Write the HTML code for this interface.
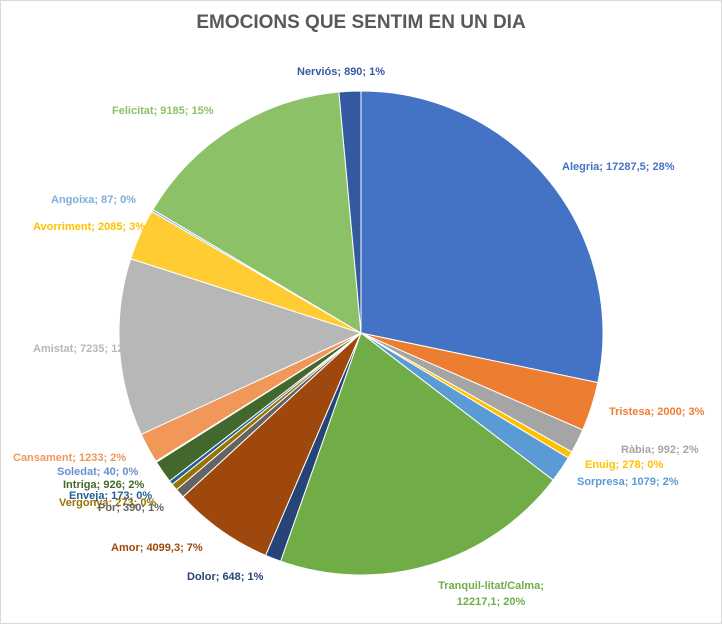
<!DOCTYPE html>
<html><head><meta charset="utf-8"><style>
html,body{margin:0;padding:0;background:#fff}
#c{position:relative;width:720px;height:622px;border:1px solid #d9d9d9;overflow:hidden;font-family:"Liberation Sans",sans-serif}
.l{position:absolute;font-size:11px;font-weight:bold;white-space:nowrap;line-height:12px}
#t{position:absolute;left:0;width:720px;top:11px;text-align:center;font-size:19px;font-weight:bold;color:#595959}
</style></head><body><div id="c">
<svg id="s" width="720" height="622" style="position:absolute;left:0;top:0"></svg>
<div id="t">EMOCIONS QUE SENTIM EN UN DIA</div>
<div class="l" style="left:296px;top:65px;color:#335AA1">Nerviós; 890; 1%</div>
<div class="l" style="left:561px;top:160px;color:#4472C4">Alegria; 17287,5; 28%</div>
<div class="l" style="left:111px;top:104px;color:#8CC168">Felicitat; 9185; 15%</div>
<div class="l" style="left:50px;top:193px;color:#7CAFDD">Angoixa; 87; 0%</div>
<div class="l" style="left:32px;top:220px;color:#FFC000">Avorriment; 2085; 3%</div>
<div class="l" style="left:32px;top:342px;color:#B7B7B7">Amistat; 7235; 12%</div>
<div class="l" style="left:608px;top:405px;color:#ED7D31">Tristesa; 2000; 3%</div>
<div class="l" style="left:620px;top:443px;color:#A5A5A5">Ràbia; 992; 2%</div>
<div class="l" style="left:584px;top:458px;color:#FFC000">Enuig; 278; 0%</div>
<div class="l" style="left:576px;top:475px;color:#5B9BD5">Sorpresa; 1079; 2%</div>
<div class="l" style="left:12px;top:451px;color:#F1975A">Cansament; 1233; 2%</div>
<div class="l" style="left:56px;top:465px;color:#698ED0">Soledat; 40; 0%</div>
<div class="l" style="left:62px;top:478px;color:#43682B">Intriga; 926; 2%</div>
<div class="l" style="left:68px;top:489px;color:#255E91">Enveja; 173; 0%</div>
<div class="l" style="left:58px;top:496px;color:#997300">Vergonya; 273; 0%</div>
<div class="l" style="left:97px;top:501px;color:#636363">Por; 390; 1%</div>
<div class="l" style="left:110px;top:541px;color:#9E480E">Amor; 4099,3; 7%</div>
<div class="l" style="left:186px;top:570px;color:#264478">Dolor; 648; 1%</div>
<div class="l" style="left:430px;top:577px;color:#70AD47;text-align:center;width:120px;line-height:16px">Tranquil-litat/Calma;<br>12217,1; 20%</div>
</div>
<script>
var d=[[17287.5,"#4472C4"],[2000,"#ED7D31"],[992,"#A5A5A5"],[278,"#FFC000"],[1079,"#5B9BD5"],[12217.1,"#70AD47"],[648,"#264478"],[4099.3,"#9E480E"],[390,"#636363"],[273,"#997300"],[173,"#255E91"],[926,"#43682B"],[40,"#698ED0"],[1233,"#F1975A"],[7235,"#B7B7B7"],[2085,"#FFCD33"],[87,"#7CAFDD"],[9185,"#8CC168"],[890,"#335AA1"]];
var tot=0;d.forEach(function(x){tot+=x[0]});
var cx=360,cy=332,r=242,a=0,h="";
d.forEach(function(x){var b=a+x[0]/tot*2*Math.PI;
var x1=cx+r*Math.sin(a),y1=cy-r*Math.cos(a),x2=cx+r*Math.sin(b),y2=cy-r*Math.cos(b);
h+='<path d="M'+cx+' '+cy+'L'+x1+' '+y1+'A'+r+' '+r+' 0 '+((b-a)>Math.PI?1:0)+' 1 '+x2+' '+y2+'Z" fill="'+x[1]+'" stroke="#fff" stroke-width="1"/>';a=b;});
document.getElementById("s").innerHTML=h;
</script></body></html>
